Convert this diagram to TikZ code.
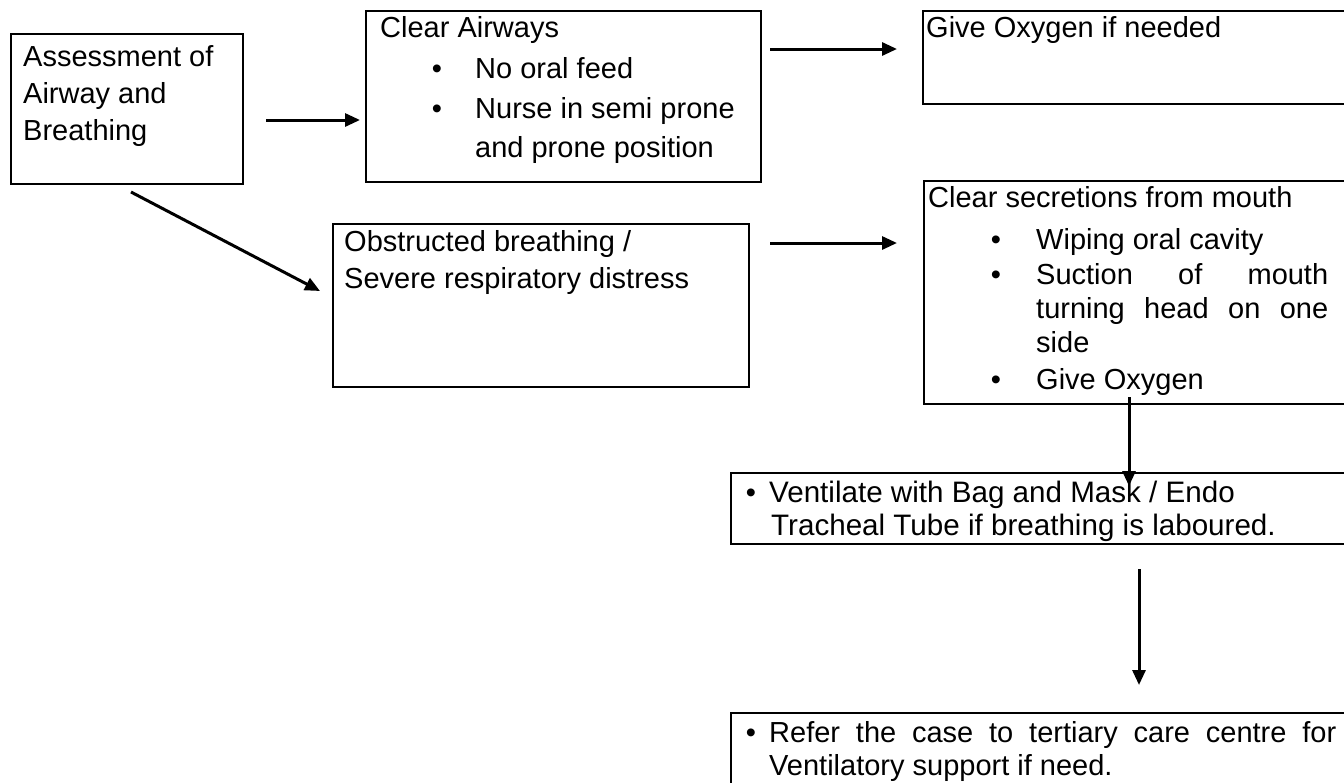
\documentclass[tikz,border=0pt]{standalone}
\usepackage{fontspec}
\setmainfont{Liberation Sans}
\usetikzlibrary{arrows.meta}
\begin{document}
\begin{tikzpicture}[x=1pt,y=-1pt,
  box/.style={draw, line width=2pt, inner sep=0pt, anchor=north west, rectangle},
  txt/.style={anchor=base west, inner sep=0pt, font=\fontsize{29}{35}\selectfont},
  txtf/.style={anchor=base west, inner sep=0pt, font=\fontsize{29.6}{35}\selectfont},
  bul/.style={anchor=base, inner sep=0pt, font=\fontsize{29}{35}\selectfont},
  arr/.style={line width=3pt, -{Triangle[length=15pt,width=13pt]}}]
\useasboundingbox (0,0) rectangle (1344,782);
% boxes
\node[box, minimum width=232pt, minimum height=150pt] (A) at (10,33) {};
\node[box, minimum width=395pt, minimum height=171pt] (B) at (365,10) {};
\node[box, minimum width=430pt, minimum height=93pt]  (C) at (922,10) {};
\node[box, minimum width=416pt, minimum height=163pt] (D) at (332,223) {};
\node[box, minimum width=429pt, minimum height=223pt] (E) at (923,180) {};
\node[box, minimum width=622pt, minimum height=71pt]  (F) at (730,472) {};
\node[box, minimum width=622pt, minimum height=100pt] (G) at (730,712) {};
% texts A
\node[txt] (ta1) at (23,66) {Assessment of};
\node[txt] (ta2) at (23,103) {Airway and};
\node[txt] (ta3) at (23,140) {Breathing};
% texts B
\node[txt] (tb0) at (380,37) {Clear Airways};
\node[bul] (bb1) at (437,78) {•};
\node[txt] (tb1) at (475,78) {No oral feed};
\node[bul] (bb2) at (437,118) {•};
\node[txt] (tb2) at (475,118) {Nurse in semi prone};
\node[txt] (tb3) at (475,157) {and prone position};
% text C
\node[txt] (tc) at (926,37) {Give Oxygen if needed};
% texts D
\node[txt] (td1) at (344,251) {Obstructed breathing /};
\node[txt] (td2) at (344,288) {Severe respiratory distress};
% texts E
\node[txt] (te0) at (928,207) {Clear secretions from mouth};
\node[bul] (be1) at (996,249) {•};
\node[txt] (te1) at (1036,249) {Wiping oral cavity};
\node[bul] (be2) at (996,284) {•};
\node[txt] (te2) at (1036,284) {\makebox[292pt][s]{Suction of mouth}};
\node[txt] (te3) at (1036,318) {\makebox[292pt][s]{turning head on one}};
\node[txt] (te4) at (1036,352) {side};
\node[bul] (be5) at (996,389) {•};
\node[txt] (te5) at (1036,389) {Give Oxygen};
% texts F
\node[bul] (bf) at (751,502) {•};
\node[txtf] (tf1) at (769,502) {Ventilate with Bag and Mask / Endo};
\node[txtf] (tf2) at (771,535) {Tracheal Tube if breathing is laboured.};
% texts G
\node[bul] (bg) at (751,742) {•};
\node[txt] (tg1) at (769,742) {\makebox[567pt][s]{Refer the case to tertiary care centre for}};
\node[txt] (tg2) at (769,775) {Ventilatory support if need.};
% connectors
\draw[arr] ([shift={(22pt,-11pt)}]A.east) -- ([shift={(-5pt,-23.5pt)}]B.west);
\draw[arr] ([shift={(8pt,47.5pt)}]B.east) -- ([shift={(-25pt,8.5pt)}]C.west);
\draw[arr] ([shift={(4pt,-7pt)}]A.south) -- ([shift={(-12pt,14.5pt)}]D.west);
\draw[arr] ([shift={(20pt,62.5pt)}]D.east) -- ([shift={(-26pt,49.5pt)}]E.west);
\draw[arr] ([shift={(-9.5pt,8pt)}]E.south) -- ([shift={(87pt,-14pt)}]F.north);
\draw[arr] ([shift={(97pt,-24pt)}]F.south) -- ([shift={(97pt,27pt)}]G.north);
\end{tikzpicture}
\end{document}
